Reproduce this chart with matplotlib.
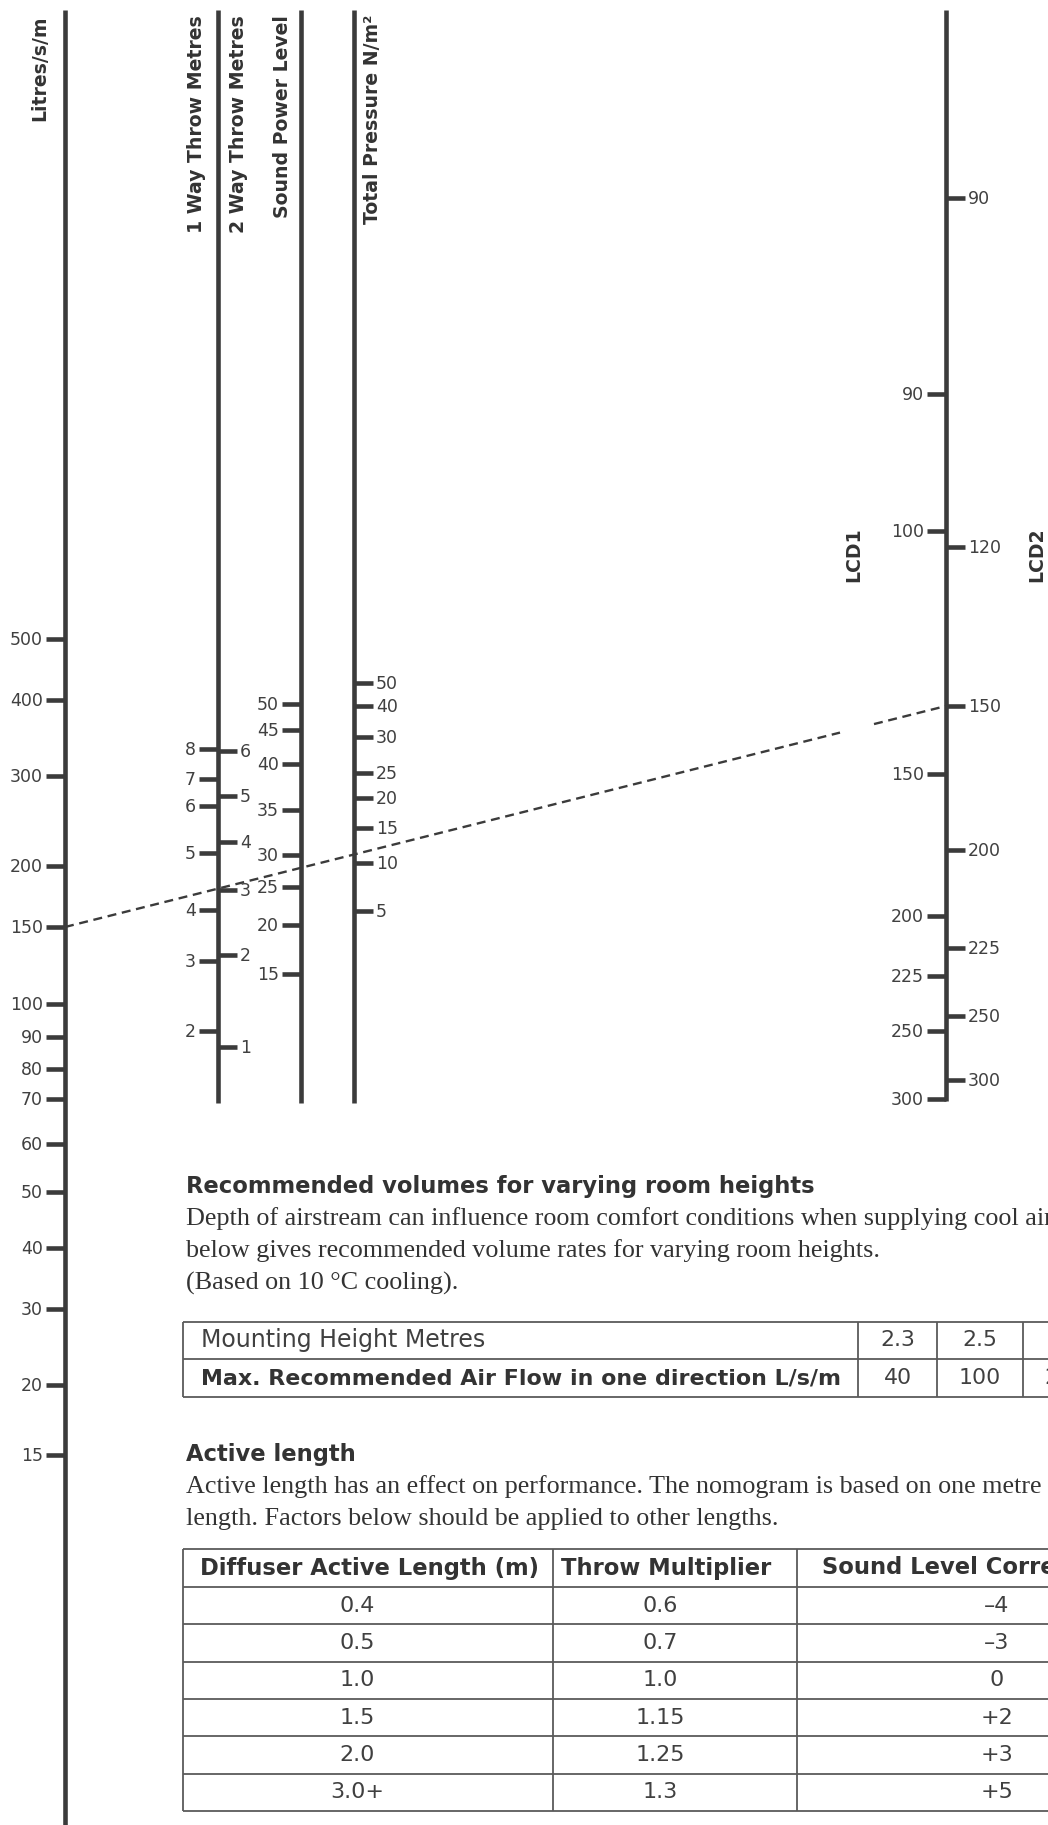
import numpy as np
import matplotlib
matplotlib.use("Agg")
import matplotlib.pyplot as plt

# nomogram scales: tick values and where they sit along each scale (px from top)
litres_vals = [500, 400, 300, 200, 150, 100, 90, 80, 70, 60, 50, 40, 30, 20, 15]
litres_pos = [639, 700, 776, 866, 927, 1004, 1037, 1069, 1099, 1144, 1192, 1248, 1309, 1385, 1455]

throw1_vals = [8, 7, 6, 5, 4, 3, 2]
throw1_pos = [749, 779, 806, 853, 910, 961, 1031]

throw2_vals = [6, 5, 4, 3, 2, 1]
throw2_pos = [751, 796, 842, 890, 955, 1047]

sound_vals = [50, 45, 40, 35, 30, 25, 20, 15]
sound_pos = [704, 730, 764, 810, 855, 887, 925, 974]

pressure_vals = [50, 40, 30, 25, 20, 15, 10, 5]
pressure_pos = [683, 706, 737, 773, 798, 828, 863, 911]

lcd1_vals = [90, 100, 150, 200, 225, 250, 300]
lcd1_pos = [394, 531, 774, 916, 976, 1031, 1099]

lcd2_vals = [90, 120, 150, 200, 225, 250, 300]
lcd2_pos = [198, 547, 706, 850, 948, 1016, 1080]

# worked example: 150 L/s/m read across to 150 on LCD2
example_litres = 150
example_lcd2 = 150

# tables
heights = ["2.3", "2.5", "3.0"]
max_flows = ["40", "100", "200"]

lengths = ["0.4", "0.5", "1.0", "1.5", "2.0", "3.0+"]
throw_mult = ["0.6", "0.7", "1.0", "1.15", "1.25", "1.3"]
sound_corr = ["\u20134", "\u20133", "0", "+2", "+3", "+5"]

DARK = "#3b3b3b"
TEXT = "#404040"
GRID = "#5a5a5a"
SANS = "DejaVu Sans"
SERIF = "Liberation Serif"
LW = 3.3
TICK = 19

fig = plt.figure(figsize=(10.48, 18.25), dpi=100)
ax = fig.add_axes([0, 0, 1, 1])
ax.set_xlim(0, 1048)
ax.set_ylim(1825, 0)
ax.axis("off")


def draw_scale(x, vals, pos, side, top, bottom):
    if top is not None:
        ax.plot([x, x], [top, bottom], color=DARK, lw=LW, solid_capstyle="butt")
    if side == "left":
        ax.hlines(pos, x - TICK, x, color=DARK, lw=LW)
        for v, p in zip(vals, pos):
            ax.text(x - TICK - 3, p + 1, str(v), ha="right", va="center",
                    fontsize=12.5, color=TEXT, family=SANS)
    else:
        ax.hlines(pos, x, x + TICK, color=DARK, lw=LW)
        for v, p in zip(vals, pos):
            ax.text(x + TICK + 3, p + 1, str(v), ha="left", va="center",
                    fontsize=12.5, color=TEXT, family=SANS)


def axis_label(x, y, s, va="top"):
    ax.text(x, y, s, rotation=90, ha="center", va=va, fontsize=13.6,
            fontweight="bold", color="#333333", family=SANS)


# scales
X_LIT, X_THR, X_SND, X_PRS, X_LCD = 65, 218, 301, 354, 946
draw_scale(X_LIT, litres_vals, litres_pos, "left", 10, 1825)
draw_scale(X_THR, throw1_vals, throw1_pos, "left", 10, 1103)
draw_scale(X_THR, throw2_vals, throw2_pos, "right", None, None)
draw_scale(X_SND, sound_vals, sound_pos, "left", 10, 1103)
draw_scale(X_PRS, pressure_vals, pressure_pos, "right", 10, 1103)
draw_scale(X_LCD, lcd1_vals, lcd1_pos, "left", 10, 1101)
draw_scale(X_LCD, lcd2_vals, lcd2_pos, "right", None, None)

axis_label(40, 15, "Litres/s/m")
axis_label(197, 15, "1 Way Throw Metres")
axis_label(238, 15, "2 Way Throw Metres")
axis_label(282, 15, "Sound Power Level")
axis_label(372, 15, "Total Pressure N/m\u00b2")
axis_label(854, 555, "LCD1", va="center")
axis_label(1037, 555, "LCD2", va="center")

# example reading line (broken near the LCD1 label)
y0 = litres_pos[litres_vals.index(example_litres)]
y1 = lcd2_pos[lcd2_vals.index(example_lcd2)]
for xa, xb in [(X_LIT, 840), (874, X_LCD)]:
    xs = np.array([xa, xb])
    ys = np.interp(xs, [X_LIT, X_LCD], [y0, y1])
    ax.plot(xs, ys, color=DARK, lw=1.7, linestyle=(0, (3.8, 2.4)))

# section 1
LEFT = 186
ax.text(LEFT, 1187, "Recommended volumes for varying room heights", ha="left",
        va="center", fontsize=16.3, fontweight="bold", color="#333333", family=SANS)
para1 = ["Depth of airstream can influence room comfort conditions when supplying cool air. The table",
         "below gives recommended volume rates for varying room heights.",
         "(Based on 10 \u00b0C cooling)."]
for i, line in enumerate(para1):
    ax.text(LEFT, 1219 + 32 * i, line, ha="left", va="center", fontsize=18.8,
            color="#333333", family=SERIF)

t1_cols = [183, 858, 937, 1023, 1107]
t1_rows = [1322, 1359, 1397]
ax.hlines(t1_rows, t1_cols[0], t1_cols[-1], color=GRID, lw=1.3)
ax.vlines(t1_cols, t1_rows[0], t1_rows[-1], color=GRID, lw=1.3)
rc1 = [(a + b) / 2 for a, b in zip(t1_rows[:-1], t1_rows[1:])]
ax.text(201, rc1[0], "Mounting Height Metres", ha="left", va="center",
        fontsize=17, color=TEXT, family=SANS)
ax.text(201, rc1[1], "Max. Recommended Air Flow in one direction L/s/m", ha="left",
        va="center", fontsize=15.9, fontweight="bold", color="#333333", family=SANS)
for j, (h, f) in enumerate(zip(heights, max_flows)):
    cx = (t1_cols[j + 1] + t1_cols[j + 2]) / 2
    ax.text(cx, rc1[0], h, ha="center", va="center", fontsize=15.8, color=TEXT, family=SANS)
    ax.text(cx, rc1[1], f, ha="center", va="center", fontsize=15.8, color=TEXT, family=SANS)

# section 2
ax.text(LEFT, 1455, "Active length", ha="left", va="center", fontsize=16.3,
        fontweight="bold", color="#333333", family=SANS)
para2 = ["Active length has an effect on performance. The nomogram is based on one metre active",
         "length. Factors below should be applied to other lengths."]
for i, line in enumerate(para2):
    ax.text(LEFT, 1487 + 32.5 * i, line, ha="left", va="center", fontsize=18.8,
            color="#333333", family=SERIF)

t2_cols = [183, 553, 797, 1180]
t2_rows = [1549, 1587, 1624, 1662, 1699, 1736, 1774, 1811]
ax.hlines(t2_rows, t2_cols[0], t2_cols[-1], color=GRID, lw=1.3)
ax.vlines(t2_cols, t2_rows[0], t2_rows[-1], color=GRID, lw=1.3)
rc2 = [(a + b) / 2 for a, b in zip(t2_rows[:-1], t2_rows[1:])]
header_x = [370, 666, 971]
value_x = [357, 660, 997]
headers = ["Diffuser Active Length (m)", "Throw Multiplier", "Sound Level Correction"]
for cx, h in zip(header_x, headers):
    ax.text(cx, rc2[0], h, ha="center", va="center", fontsize=16.3,
            fontweight="bold", color="#333333", family=SANS)
for i, row in enumerate(zip(lengths, throw_mult, sound_corr)):
    for cx, v in zip(value_x, row):
        ax.text(cx, rc2[i + 1], v, ha="center", va="center", fontsize=16,
                color=TEXT, family=SANS)

fig.savefig("out.png", dpi=100, facecolor="white")
